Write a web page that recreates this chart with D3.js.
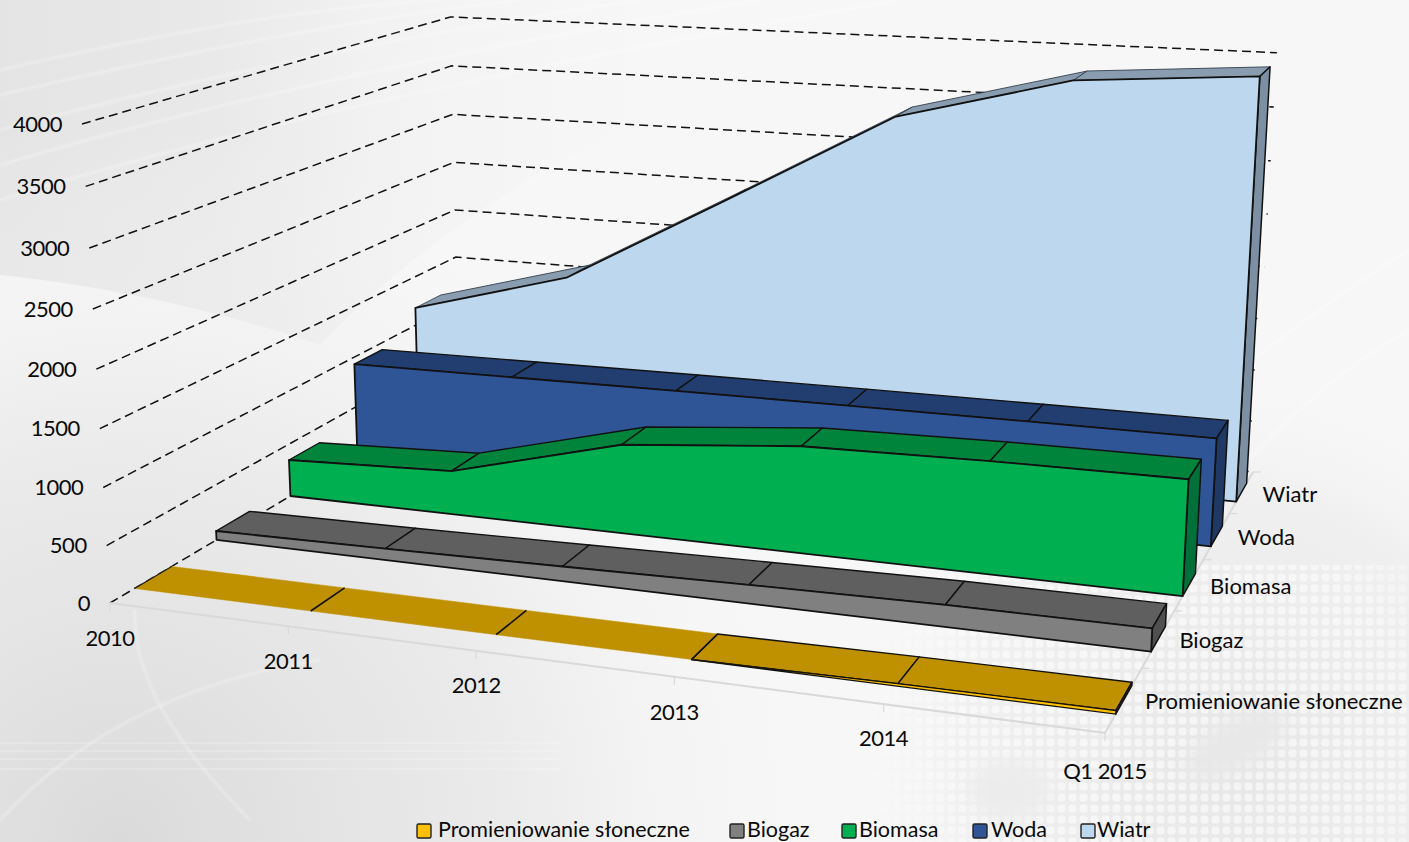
<!DOCTYPE html>
<html><head><meta charset="utf-8">
<script src="https://cdn.jsdelivr.net/npm/d3@7"></script>
<style>html,body{margin:0;padding:0;background:#fff;overflow:hidden}svg{display:block}text{font-family:Lato,sans-serif;fill:#0a0a0a}</style>
</head><body><svg id="c" width="1409" height="842"></svg>
<script>
const categories = ["2010","2011","2012","2013","2014","Q1 2015"];
const seriesNames = ["Promieniowanie słoneczne","Biogaz","Biomasa","Woda","Wiatr"];
const solar = [0,0,0,2,20,28];
const biogas = [82,103,131,162,188,193];
const biomass = [350,410,820,968,1000,1010];
const hydro = [930,945,960,970,977,981];
const wind = [1180,1616,2497,3390,3810,3925];
const valueTicks = [0,500,1000,1500,2000,2500,3000,3500,4000];
const catLabelNudge = [0,0,-1,1,-1,3];
const legendSwatchX = [417,730,842,973,1081];
const legendTextX = [438,747,859,991,1097];
const colFront = ["#ffc000","#808080","#00b050","#2f5597","#bdd7ee"];
const colTop = ["#bf9000","#5f5f5f","#00843c","#223d70","#8a9db0"];
const colSide = ["#bf9000","#505050","#00703a","#203864","#7d90a3"];

const svg = d3.select("#c");
const W=1409,H=842;

// ---- background (decorative)
const defs = svg.append("defs");
function lg(id,x1,y1,x2,y2,stops){const g=defs.append("linearGradient").attr("id",id).attr("gradientUnits","userSpaceOnUse").attr("x1",x1).attr("y1",y1).attr("x2",x2).attr("y2",y2);
 stops.forEach(s=>g.append("stop").attr("offset",s[0]).attr("stop-color",s[1]).attr("stop-opacity",s[2]));}
lg("gTop",0,100,720,100,[[0,"#e4e4e4",1],[.3,"#e9e9e9",1],[.5,"#f1f1f1",1],[1,"#f7f7f7",0]]);
const rg=defs.append("radialGradient").attr("id","gBL").attr("gradientUnits","userSpaceOnUse").attr("cx",120).attr("cy",842).attr("r",720);
rg.append("stop").attr("offset",0).attr("stop-color","#dadada");
rg.append("stop").attr("offset",.55).attr("stop-color","#e8e8e8").attr("stop-opacity",.8);
rg.append("stop").attr("offset",1).attr("stop-color","#f7f7f7").attr("stop-opacity",0);
const rr=defs.append("radialGradient").attr("id","gBR").attr("gradientUnits","userSpaceOnUse").attr("cx",1230).attr("cy",760).attr("r",380);
rr.append("stop").attr("offset",0).attr("stop-color","#e6e6e6");
rr.append("stop").attr("offset",.7).attr("stop-color","#eeeeee").attr("stop-opacity",.8);
rr.append("stop").attr("offset",1).attr("stop-color","#f7f7f7").attr("stop-opacity",0);
const pat=defs.append("pattern").attr("id","dots").attr("patternUnits","userSpaceOnUse").attr("width",11).attr("height",11);
pat.append("rect").attr("x",1.5).attr("y",1.5).attr("width",8).attr("height",8).attr("rx",3).attr("fill","#fff");
const mg=defs.append("radialGradient").attr("id","gM").attr("gradientUnits","userSpaceOnUse").attr("cx",1180).attr("cy",730).attr("r",330);
mg.append("stop").attr("offset",0).attr("stop-color","#fff");mg.append("stop").attr("offset",.65).attr("stop-color","#ddd");mg.append("stop").attr("offset",1).attr("stop-color","#000");
defs.append("filter").attr("id","soft").attr("x","-10%").attr("y","-10%").attr("width","120%").attr("height","120%").append("feGaussianBlur").attr("stdDeviation",1.2);
defs.append("filter").attr("id","soft2").attr("x","-40%").attr("y","-40%").attr("width","180%").attr("height","180%").append("feGaussianBlur").attr("stdDeviation",9);
defs.append("mask").attr("id","mD").append("rect").attr("width",W).attr("height",H).attr("fill","url(#gM)");
const bg=svg.append("g");
bg.append("rect").attr("width",W).attr("height",H).attr("fill","#f7f7f7");
bg.append("path").attr("d","M0,0H1000C760,60 520,140 320,345C220,310 100,285 0,275Z").attr("fill","url(#gTop)");
bg.append("rect").attr("width",W).attr("height",H).attr("fill","url(#gBL)");
bg.append("rect").attr("width",W).attr("height",H).attr("fill","url(#gBR)");
bg.append("rect").attr("x",830).attr("y",565).attr("width",579).attr("height",277).attr("fill","url(#dots)").attr("mask","url(#mD)").attr("opacity",.6);
bg.append("ellipse").attr("cx",1235).attr("cy",745).attr("rx",55).attr("ry",24).attr("transform","rotate(-30 1235 745)").attr("fill","#e8e8e8").attr("filter","url(#soft2)");
bg.append("ellipse").attr("cx",1010).attr("cy",790).attr("rx",40).attr("ry",30).attr("fill","#ececec").attr("filter","url(#soft2)");
const arcs=[[0,70,260,10,440,0],[0,95,300,25,520,0],[0,130,300,50,640,0],[0,165,300,75,760,0],[0,200,320,100,900,0],[1409,250,1280,330,1120,470],[1409,330,1320,380,1240,470]];
arcs.forEach(a=>bg.append("path").attr("d",`M${a[0]},${a[1]}Q${a[2]},${a[3]} ${a[4]},${a[5]}`).attr("fill","none").attr("stroke","#fff").attr("stroke-opacity",.3).attr("stroke-width",2.5).attr("filter","url(#soft)"));
bg.append("path").attr("d","M135,610Q130,700 250,820").attr("fill","none").attr("stroke","#fff").attr("stroke-opacity",.3).attr("stroke-width",2.5).attr("filter","url(#soft)");
bg.append("path").attr("d","M0,820Q120,690 320,660").attr("fill","none").attr("stroke","#fff").attr("stroke-opacity",.3).attr("stroke-width",2.5).attr("filter","url(#soft)");
[742,750,758,768].forEach(y=>bg.append("rect").attr("x",0).attr("y",y).attr("width",560).attr("height",2).attr("fill","#fff").attr("opacity",.18));

// ---- 3D projection from floor / wall corners
const O=[110,603],X=[1105,733],D=[459,396],XD=[1253,472],V=[82,124],wv=0.9536;
function det(a,b,c){return a[0]*(b[1]*c[2]-b[2]*c[1])-a[1]*(b[0]*c[2]-b[2]*c[0])+a[2]*(b[0]*c[1]-b[1]*c[0]);}
const hX=[X[0],X[1],1],hD=[D[0],D[1],1],hO=[O[0],O[1],1],hXD=[XD[0],XD[1],1],hV=[V[0],V[1],1];
const m=[0,1,2].map(i=>[hX[i],hD[i],-hXD[i]]);
const dm=det(m[0],m[1],m[2]);
const col=(j)=>[0,1,2].map(i=>{const r=m[i].slice();r[j]=hO[i];return r;});
const dd=j=>{const c=col(j);return det(c[0],c[1],c[2]);};
const wx=dd(0)/dm, wd=dd(1)/dm;
const sx=d3.scalePoint().domain(categories).range([0,1]);
const sd=d3.scaleLinear().domain([0,5]).range([0,1]);
const sv=d3.scaleLinear().domain([0,4000]).range([0,1]);
function proj(cat,depth,val){
  const a=sx(cat),b=sd(depth),c=sv(val);
  const h=[0,1,2].map(i=>hO[i]+a*(wx*hX[i]-hO[i])+b*(wd*hD[i]-hO[i])+c*(wv*hV[i]-hO[i]));
  return [h[0]/h[2],h[1]/h[2]];
}
const line=d3.line();
const last=categories[categories.length-1], first=categories[0];

// ---- gridlines
const grid=svg.append("g");
valueTicks.forEach(v=>{
  grid.append("path").attr("d",line([proj(first,0,v),proj(first,5,v),proj(last,5,v)]))
    .attr("fill","none").attr("stroke","#111").attr("stroke-width",1.5).attr("stroke-dasharray","9,5");
});
// ---- axes lines
const ax=svg.append("g").attr("stroke","#d9d9d9").attr("stroke-width",2).attr("fill","none");
ax.append("path").attr("d",line([proj(first,0,0),proj(last,0,0),proj(last,5,0)]));
categories.forEach(c=>{const p=proj(c,0,0);ax.append("path").attr("d",line([p,[p[0],p[1]+8]])).attr("stroke-width",1.2);});
d3.range(1,6).forEach(d=>{const p=proj(last,d,0);ax.append("path").attr("d",line([p,[p[0]+8,p[1]]])).attr("stroke-width",1.2);});

// ---- series, back to front
const allSeries=[solar,biogas,biomass,hydro,wind];
const order=[4,3,2,1,0];
const dStart=0.28,dEnd=0.72;
const sG=svg.append("g");
order.forEach(i=>{
  const vals=allSeries[i],d0=i+dStart,d1=i+dEnd,g=sG.append("g");
  const sw = 1.8;
  categories.slice(0,-1).forEach((c,j)=>{
    const c2=categories[j+1];
    const quad=[proj(c,d0,vals[j]),proj(c2,d0,vals[j+1]),proj(c2,d1,vals[j+1]),proj(c,d1,vals[j])];
    const p=g.append("path").attr("d",line(quad)+"Z").attr("fill",colTop[i]);
    if(i===0 && j<3){
      p.attr("stroke",colTop[i]).attr("stroke-width",.5);
    } else p.attr("stroke",i===4?"#33404d":"#111").attr("stroke-width",i===4?.9:1.4).attr("stroke-linejoin","round");
  });
  if(i===0){
    [1,2,3].forEach(j=>g.append("path").attr("d",line([proj(categories[j],d0,vals[j]),proj(categories[j],d1,vals[j])])).attr("stroke","#111").attr("stroke-width",1.6));
    g.append("path").attr("d",line([proj(first,d0,0),proj(first,d1,0)])).attr("stroke","#222").attr("stroke-width",1.2);
  }
  g.append("path").attr("d",line([proj(last,d0,0),proj(last,d0,vals[5]),proj(last,d1,vals[5]),proj(last,d1,0)])+"Z")
    .attr("fill",colSide[i]).attr("stroke","#111").attr("stroke-width",1.5).attr("stroke-linejoin","round");
  const front=categories.map((c,j)=>proj(c,d0,vals[j]));
  const poly=[proj(first,d0,0),...front,proj(last,d0,0)];
  if(i===0){
    g.append("path").attr("d",line(front.slice(3).concat([proj(last,d0,0),proj(categories[3],d0,0)]))+"Z").attr("fill",colFront[i]).attr("stroke","#111").attr("stroke-width",1.2);
  } else {
    g.append("path").attr("d",line(poly)+"Z").attr("fill",colFront[i]).attr("stroke","#111").attr("stroke-width",sw).attr("stroke-linejoin","round");
  }
});

// ---- labels
const FS=22;
const tl=svg.append("g").attr("font-size",FS);
valueTicks.forEach(v=>{const p=proj(first,0,v);
  tl.append("text").attr("x",p[0]-20).attr("y",p[1]).attr("dy","0.35em").attr("text-anchor","end").attr("letter-spacing","-0.5").text(v);});
categories.forEach((c,j)=>{const p=proj(c,0,0);
  tl.append("text").attr("x",p[0]).attr("y",p[1]+35+catLabelNudge[j]).attr("dy","0.35em").attr("text-anchor","middle").attr("letter-spacing","-0.5").text(c);});
seriesNames.forEach((n,i)=>{const p=proj(last,i+.5,0);
  tl.append("text").attr("x",p[0]+21).attr("y",p[1]+1.5).attr("dy","0.35em").text(n);});

// ---- legend
const leg=svg.append("g").attr("font-size",21.5);
seriesNames.forEach((n,i)=>{
  leg.append("rect").attr("x",legendSwatchX[i]).attr("y",824).attr("width",14).attr("height",14).attr("rx",1.5).attr("fill",colFront[i]).attr("stroke","#222").attr("stroke-width",1.4);
  leg.append("text").attr("x",legendTextX[i]).attr("y",829).attr("dy","0.35em").text(n);
});
</script></body></html>
